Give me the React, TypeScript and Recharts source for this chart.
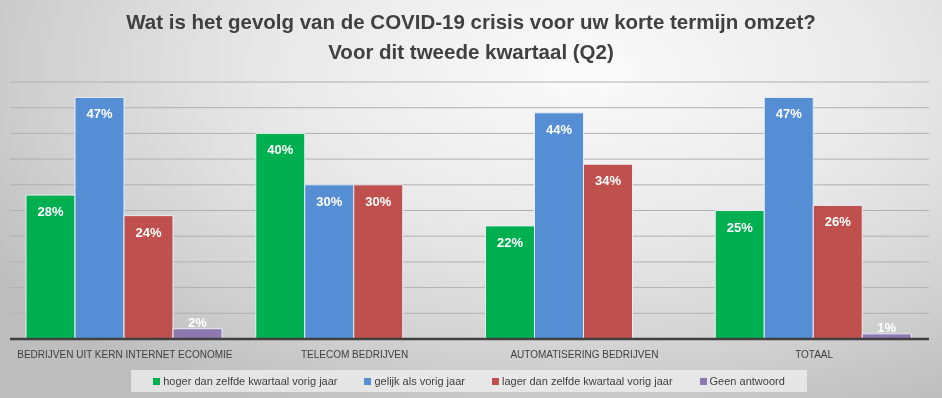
import React from "react";
import { BarChart, Bar, XAxis, YAxis, CartesianGrid, LabelList } from "recharts";

const categories = [
  "BEDRIJVEN UIT KERN INTERNET ECONOMIE",
  "TELECOM BEDRIJVEN",
  "AUTOMATISERING BEDRIJVEN",
  "TOTAAL",
];
const hoger = [28, 40, 22, 25];
const gelijk = [47, 30, 44, 47];
const lager = [24, 30, 34, 26];
const geen = [2, null, null, 1];
const yTicks = [0, 5, 10, 15, 20, 25, 30, 35, 40, 45, 50];

const series = [
  { key: "hoger", name: "hoger dan zelfde kwartaal vorig jaar", color: "#00B050" },
  { key: "gelijk", name: "gelijk als vorig jaar", color: "#558ED5" },
  { key: "lager", name: "lager dan zelfde kwartaal vorig jaar", color: "#C0504D" },
  { key: "geen", name: "Geen antwoord", color: "#8E78B0" },
];

const data = categories.map((name, i) => ({
  name,
  hoger: hoger[i],
  gelijk: gelijk[i],
  lager: lager[i],
  geen: geen[i],
}));

const renderLabel = (props: any) => {
  const { x, y, width, height, value } = props;
  if (value === null || value === undefined) return null;
  // kleine balken: label boven de balk
  const ty = height < 22 ? y - 2 : y + 21;
  return (
    <text
      x={x + width / 2}
      y={ty}
      textAnchor="middle"
      fill="#ffffff"
      fontFamily="Liberation Sans, Arial, sans-serif"
      fontWeight="bold"
      fontSize={13}
    >
      {value}%
    </text>
  );
};

const App = () => {
  return (
    <div
      style={{
        position: "fixed",
        left: 0,
        top: 0,
        width: 942,
        height: 398,
        overflow: "hidden",
        background:
          "radial-gradient(ellipse 75% 95% at 62% 18%, #fbfbfb 0%, #e8e8e8 45%, #d2d2d2 75%, #bdbdbd 100%)",
        fontFamily: "Liberation Sans, Arial, sans-serif",
      }}
    >
      <div
        style={{
          position: "absolute",
          top: 7,
          left: 0,
          width: 942,
          textAlign: "center",
          color: "#404040",
          fontWeight: "bold",
          fontSize: 20.5,
          lineHeight: "30px",
        }}
      >
        <div>Wat is het gevolg van de COVID-19 crisis voor uw korte termijn omzet?</div>
        <div>Voor dit tweede kwartaal (Q2)</div>
      </div>
      <div style={{ position: "absolute", left: 0, top: 0 }}>
        <BarChart
          width={942}
          height={398}
          data={data}
          margin={{ top: 82, right: 13, left: 10, bottom: 39 }}
          barCategoryGap={16}
          barGap={0}
        >
          <CartesianGrid vertical={false} stroke="#b0b0b0" strokeWidth={1} />
          <YAxis hide domain={[0, 50]} ticks={yTicks} />
          <XAxis
            dataKey="name"
            height={20}
            axisLine={{ stroke: "#404040", strokeWidth: 2.5 }}
            tickLine={false}
            tickSize={0}
            tickMargin={12}
            interval={0}
            tick={{ fill: "#404040", fontSize: 10, fontFamily: "Liberation Sans, Arial, sans-serif" }}
          />
          {series.map((s) => (
            <Bar
              key={s.key}
              dataKey={s.key}
              name={s.name}
              fill={s.color}
              stroke="#e8eef5"
              strokeWidth={1}
              isAnimationActive={false}
            >
              <LabelList dataKey={s.key} content={renderLabel} />
            </Bar>
          ))}
        </BarChart>
      </div>
      <div
        style={{
          position: "absolute",
          left: 131,
          top: 370,
          width: 676,
          height: 22,
          background: "rgba(240,240,240,0.75)",
          display: "flex",
          alignItems: "center",
          justifyContent: "center",
          gap: 27,
          fontSize: 11,
          color: "#404040",
        }}
      >
        {series.map((s) => (
          <div key={s.key} style={{ display: "flex", alignItems: "center" }}>
            <span
              style={{
                display: "inline-block",
                width: 7,
                height: 7,
                background: s.color,
                marginRight: 3,
              }}
            />
            <span>{s.name}</span>
          </div>
        ))}
      </div>
    </div>
  );
};

export default App;
